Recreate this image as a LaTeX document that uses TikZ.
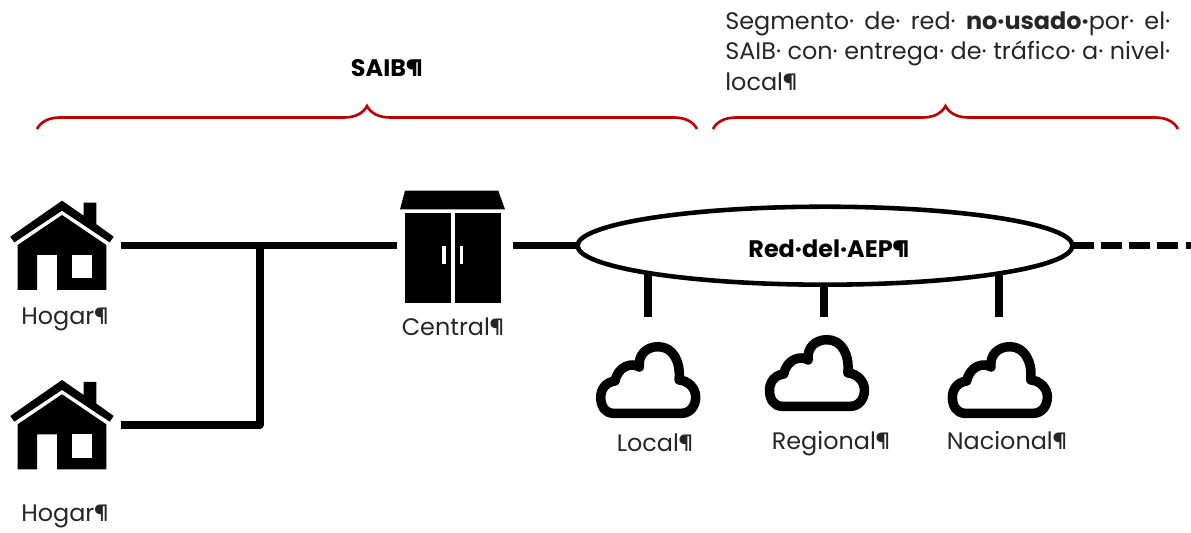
\documentclass[tikz,border=0pt]{standalone}
\usepackage{fontspec}
\setmainfont{Poppins}
\usetikzlibrary{positioning,shapes.geometric,decorations.pathreplacing,backgrounds}
\definecolor{rojollave}{HTML}{C00000}
\tikzset{
  caja/.style={inner sep=0pt, outer sep=0pt},
  linea/.style={line width=4pt, line join=round},
  llave/.style={rojollave, line width=1.5pt, decorate, decoration={brace, amplitude=0.46cm}},
  etiqueta/.style={inner sep=0pt, anchor=base, text=black!85},
  hogaricon/.pic={
    \fill (-51.7,-9) -- (0,-45) -- (21.7,-30) -- (21.7,-43) -- (34.3,-43) -- (34.3,-21.5) -- (51.7,-9) -- (47.7,-3.3) -- (0,-35) -- (-47.7,-3.3) -- cycle;
    \fill (0,-30.7) -- (44.3,-0.7) -- (44.3,44.3) -- (-5,44.3) -- (-5,9.3) -- (-25,9.3) -- (-25,44.3) -- (-44.3,44.3) -- (-44.3,-0.7) -- cycle;
    \fill[white] (10,9.3) rectangle (30,32.7);
  },
  centralicon/.pic={
    \fill (-47.8,-55) -- (45.5,-55) -- (52.2,-36.3) -- (-52.8,-36.3) -- cycle;
    \fill (-47.8,-33) rectangle (-1.8,57);
    \fill (1.8,-33) rectangle (47.8,57);
    \fill[white] (-10.5,0.3) rectangle (-7.2,18.3);
    \fill[white] (6.8,0.3) rectangle (10.5,18.3);
  },
  nubeicon/.pic={
    \draw[line width=5.4pt, line join=round] (-34.7,33.3) -- (33.7,33.3)
      .. controls (42,33.3) and (47.7,26) .. (47.7,17)
      .. controls (47.7,8) and (40,0.5) .. (31,0)
      .. controls (33,-18) and (25,-33.3) .. (10.3,-33.3)
      .. controls (-2,-33.3) and (-10,-25) .. (-8.7,-13)
      .. controls (-16,-18) and (-30,-14) .. (-33,1)
      .. controls (-42,2) and (-47.3,9) .. (-47.3,17.3)
      .. controls (-47.3,26) and (-43,33.3) .. (-34.7,33.3) -- cycle;
  }
}
\begin{document}
\begin{tikzpicture}[x=0.02cm, y=-0.02cm, font=\fontsize{13.6pt}{17.6pt}\selectfont]
    \useasboundingbox (0,0) rectangle (1191,533);
    % iconos
    \foreach \y/\nombre in {245.7/hogara,425/hogarb}{
        \node[caja, minimum width=2.36cm, minimum height=1.8cm] (\nombre) at (62,\y) {};
        \pic at (62,\y) {hogaricon};
    }
    \node[caja, minimum width=2.32cm, minimum height=1.8cm] (central) at (455.3,245.7) {};
    \pic at (452.8,245.7) {centralicon};
    \node[caja, draw, fill=white, line width=2.6pt, ellipse, minimum width=9.9cm, minimum height=1.56cm] (aep) at (825,245.7) {};
    \foreach \x/\xnube/\ynube/\nombre in {648/648/380/nubelocal,824/816.8/373/nuberegional,999/999.7/380/nubenacional}{
        \node[caja, minimum width=2cm, minimum height=2.68cm] (\nombre) at (\x,384) {};
        \pic at (\xnube,\ynube) {nubeicon};
    }
    % conexiones
    \coordinate (union) at (260,245.7);
    \coordinate (fin) at (1191,245.7);
    \draw[linea] (hogara) -- (central);
    \draw[linea] (hogarb) -| (union);
    \draw[linea] (central) -- (aep);
    \draw[linea, dash pattern=on 12pt off 4.1pt] (aep.east) -- (fin);
    \begin{scope}[on background layer]
        \foreach \nombre in {nubelocal,nuberegional,nubenacional}{\draw[linea] (\nombre.north) -- (\nombre.north |- aep.center);}
    \end{scope}
    % llaves
    \coordinate (saiba) at (37,129);
    \coordinate (saibb) at (697,129);
    \coordinate (nousoa) at (713,129);
    \coordinate (nousob) at (1178,129);
    \draw[llave] (saiba) -- (saibb);
    \draw[llave] (nousoa) -- (nousob);
    % textos
    \node[etiqueta] (thogara) at (65,325) {Hogar¶};
    \node[etiqueta] (thogarb) at (65,521.7) {Hogar¶};
    \node[etiqueta] (tcentral) at (453,335.7) {Central¶};
    \node[etiqueta] (tlocal) at (655,452) {Local¶};
    \node[etiqueta] (tregional) at (831,450) {Regional¶};
    \node[etiqueta] (tnacional) at (1007,450) {Nacional¶};
    \node[etiqueta, text=black] (taep) at (829,257.7) {\textbf{Red·del·AEP¶}};
    \node[etiqueta, text=black] (tsaib) at (387,77) {\textbf{SAIB¶}};
    \node[etiqueta, anchor=north west, align=left] (tnouso) at (725,11) {\makebox[8.9cm][s]{Segmento· de· red· \textbf{no·usado·}por· el·}\\\makebox[8.9cm][s]{SAIB· con· entrega· de· tráfico· a· nivel·}\\local¶};
\end{tikzpicture}
\end{document}
